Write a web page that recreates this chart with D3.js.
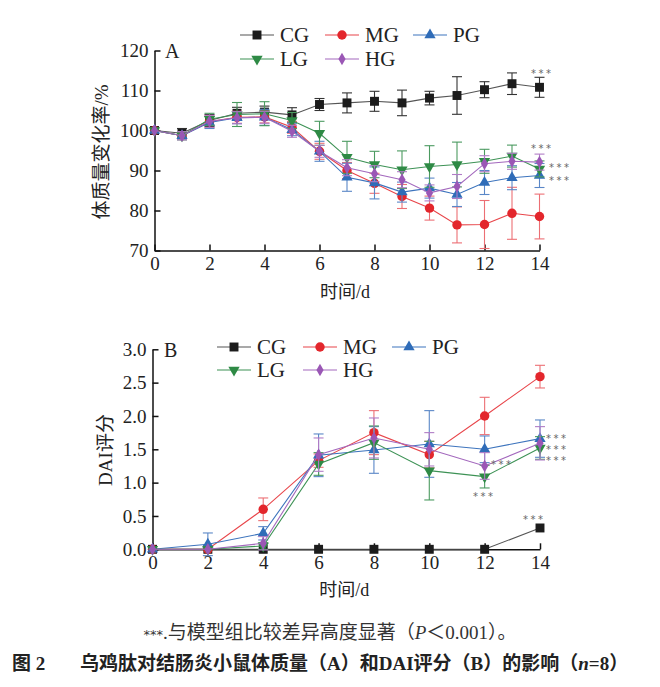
<!DOCTYPE html>
<html><head><meta charset="utf-8">
<script src="https://cdn.jsdelivr.net/npm/d3@7"></script>
<style>body{margin:0;background:#fff}</style>
</head><body>
<svg id="c" width="660" height="687" xmlns="http://www.w3.org/2000/svg"></svg>
<script>
// ---------- data ----------
const groups = ["CG", "MG", "PG", "LG", "HG"];
const daysA = [0,1,2,3,4,5,6,7,8,9,10,11,12,13,14];
const weightCG = [100, 99.3, 102.5, 104.3, 104.6, 103.9, 106.5, 106.9, 107.3, 106.9, 108.1, 108.75, 110.2, 111.7, 110.8];
const weightMG = [100, 98.7, 102.2, 103.3, 103.4, 100.8, 94.8, 90.0, 86.8, 83.5, 80.6, 76.4, 76.5, 79.3, 78.5];
const weightPG = [100, 98.7, 102.0, 103.2, 103.3, 100.2, 94.8, 88.3, 86.9, 84.6, 85.6, 84.0, 87.0, 88.2, 88.75];
const weightLG = [100, 98.7, 102.8, 104.0, 104.2, 102.5, 99.3, 93.3, 91.5, 90.2, 91.0, 91.5, 92.3, 93.6, 90.4];
const weightHG = [100, 98.7, 102.3, 103.2, 103.3, 99.8, 94.8, 90.7, 89.2, 87.7, 84.4, 86.0, 91.7, 92.3, 92.1];
const weightErrCG = [0, 1.2, 1.5, 1.5, 1.5, 1.8, 1.5, 2.5, 2.5, 3.2, 1.7, 4.7, 2.0, 2.7, 2.5];
const weightErrMG = [0, 1.0, 1.5, 1.5, 1.5, 1.5, 2.0, 2.0, 2.5, 3.0, 3.0, 4.5, 6.0, 6.5, 5.6];
const weightErrPG = [0, 1.0, 1.5, 1.5, 2.0, 1.5, 2.5, 3.5, 4.0, 2.5, 2.5, 3.0, 3.0, 3.0, 3.0];
const weightErrLG = [0, 1.0, 1.5, 3.0, 3.0, 2.0, 3.0, 4.0, 3.3, 4.7, 5.2, 5.6, 3.0, 2.75, 2.0];
const weightErrHG = [0, 1.0, 1.5, 1.5, 1.5, 1.5, 1.5, 2.0, 2.0, 2.0, 2.0, 3.0, 2.0, 2.0, 2.0];

const daysB = [0,2,4,6,8,10,12,14];
const daiCG = [0, 0, 0, 0, 0, 0, 0, 0.32];
const daiMG = [0, 0, 0.6, 1.33, 1.75, 1.42, 2.0, 2.59];
const daiPG = [0, 0.075, 0.24, 1.41, 1.49, 1.58, 1.5, 1.66];
const daiLG = [0, 0, 0.05, 1.28, 1.6, 1.18, 1.09, 1.52];
const daiHG = [0, 0, 0.09, 1.42, 1.67, 1.5, 1.25, 1.59];
const daiErrCG = [0, 0, 0, 0, 0, 0, 0, 0];
const daiErrMG = [0, 0, 0.17, 0.1, 0.33, 0.2, 0.28, 0.17];
const daiErrPG = [0, 0.17, 0.1, 0.32, 0.35, 0.5, 0.2, 0.28];
const daiErrLG = [0, 0, 0.05, 0.17, 0.25, 0.44, 0.17, 0.17];
const daiErrHG = [0, 0, 0.1, 0.25, 0.3, 0.25, 0.2, 0.25];

const ticksAY = [70, 80, 90, 100, 110, 120];
const ticksBY = [0, 0.5, 1.0, 1.5, 2.0, 2.5, 3.0];
const ticksX = [0, 2, 4, 6, 8, 10, 12, 14];

// ---------- styles ----------
const markColor = {CG:"#1c1c1c", MG:"#e3262c", PG:"#2f6cb8", LG:"#2e8a45", HG:"#9a57b5"};
const lineColor = {CG:"#555555", MG:"#e8454a", PG:"#3d74bd", LG:"#3d9255", HG:"#a368bd"};
const errColor  = {CG:"#333333", MG:"#ec6f74", PG:"#5a87c7", LG:"#4b9a60", HG:"#b07cc6"};
const symbolOf = {
  CG: d3.symbolSquare, MG: d3.symbolCircle, PG: d3.symbolTriangle, LG: "down", HG: d3.symbolDiamond
};
const sizeOf = {CG: 80, MG: 70, PG: 55, LG: 55, HG: 45};

const svg = d3.select("#c");
const SERIF = "'Liberation Serif','Times New Roman','Noto Sans CJK SC',serif";
const CJK = "'Liberation Serif','Noto Sans CJK SC',sans-serif";

function marker(g, grp, x, y) {
  const sym = symbolOf[grp];
  const t = sym === "down" ? `translate(${x},${y}) rotate(180)` : `translate(${x},${y})`;
  const s = sym === "down" ? d3.symbolTriangle : sym;
  g.append("path").attr("d", d3.symbol(s, sizeOf[grp])()).attr("transform", t)
    .attr("fill", markColor[grp]);
}

function panel(cfg) {
  const x = d3.scaleLinear().domain([0, 14]).range(cfg.xr);
  const y = d3.scaleLinear().domain(cfg.yd).range(cfg.yr);
  const g = svg.append("g");

  // axes
  const ax = g.append("g").attr("transform", `translate(0,${cfg.yr[0]})`)
    .call(d3.axisBottom(x).tickValues(ticksX).tickSizeInner(-6).tickSizeOuter(0).tickPadding(6));
  const ay = g.append("g").attr("transform", `translate(${cfg.xr[0]},0)`)
    .call(d3.axisLeft(y).tickValues(cfg.ticksY).tickFormat(cfg.fmt).tickSizeInner(-6).tickSizeOuter(0).tickPadding(6));
  [ax, ay].forEach(a => {
    a.selectAll("path,line").attr("stroke", "#111").attr("stroke-width", 1.5);
    a.selectAll("text").attr("font-family", SERIF).attr("font-size", 19).attr("fill", "#222");
  });

  // series
  cfg.groups.forEach(grp => {
    const vals = cfg.vals[grp], errs = cfg.errs[grp];
    const pts = cfg.days.map((d, i) => ({d, v: vals[i], e: errs[i]}));
    const gg = g.append("g");
    gg.append("path").datum(pts)
      .attr("d", d3.line().x(p => x(p.d)).y(p => y(p.v)))
      .attr("fill", "none").attr("stroke", lineColor[grp]).attr("stroke-width", 1.1);
    pts.filter(p => p.e > 0).forEach(p => {
      const cx = x(p.d), y0 = y(p.v - p.e), y1 = y(p.v + p.e);
      gg.append("line").attr("x1", cx).attr("x2", cx).attr("y1", y0).attr("y2", y1)
        .attr("stroke", errColor[grp]).attr("stroke-width", 1.1);
      [y0, y1].forEach(yy => gg.append("line").attr("x1", cx - 5).attr("x2", cx + 5)
        .attr("y1", yy).attr("y2", yy).attr("stroke", errColor[grp]).attr("stroke-width", 1.1));
    });
    pts.forEach(p => marker(gg, grp, x(p.d), y(p.v)));
  });

  // panel letter
  g.append("text").attr("x", cfg.letter[0]).attr("y", cfg.letter[1]).text(cfg.letterText)
    .attr("font-family", SERIF).attr("font-size", 20).attr("fill", "#222");

  // legend
  cfg.legend.forEach(item => {
    const [grp, lx, ly] = item;
    g.append("line").attr("x1", lx).attr("x2", lx + 34).attr("y1", ly).attr("y2", ly)
      .attr("stroke", lineColor[grp]).attr("stroke-width", 1.1);
    marker(g, grp, lx + 17, ly);
    g.append("text").attr("x", lx + 40).attr("y", ly).attr("dy", "0.35em").text(grp)
      .attr("font-family", SERIF).attr("font-size", 21).attr("fill", "#222");
  });

  // axis titles
  g.append("text").attr("x", (cfg.xr[0] + cfg.xr[1]) / 2 - 2).attr("y", cfg.xTitleY).text("时间/d")
    .attr("text-anchor", "middle").attr("font-family", CJK).attr("font-size", 18).attr("fill", "#222");
  g.append("text").attr("transform", `translate(${cfg.yTitle[0]},${cfg.yTitle[1]}) rotate(-90)`)
    .text(cfg.yTitleText).attr("text-anchor", "middle")
    .attr("font-family", CJK).attr("font-size", 19).attr("fill", "#222");

  // significance stars
  cfg.stars.forEach(s => {
    g.append("text").attr("x", s[0]).attr("y", s[1]).text("***").attr("text-anchor", s[2] || "start")
      .attr("font-family", "'DejaVu Sans',sans-serif").attr("font-size", 10)
      .attr("letter-spacing", 2.5).attr("fill", "#666");
  });
}

panel({
  xr: [154.5, 539.5], yd: [70, 120], yr: [250.5, 50.5], ticksY: ticksAY, fmt: d3.format("d"),
  days: daysA, groups: groups,
  vals: {CG: weightCG, MG: weightMG, PG: weightPG, LG: weightLG, HG: weightHG},
  errs: {CG: weightErrCG, MG: weightErrMG, PG: weightErrPG, LG: weightErrLG, HG: weightErrHG},
  letter: [165, 58], letterText: "A",
  legend: [["CG", 240, 35], ["MG", 325, 35], ["PG", 413, 35], ["LG", 240, 59], ["HG", 325, 59]],
  xTitleY: 298, yTitle: [108, 152], yTitleText: "体质量变化率/%",
  stars: [[531, 77], [531, 152], [549, 171], [549, 184]]
});

panel({
  xr: [152.5, 540], yd: [0, 3], yr: [549.3, 349.3], ticksY: ticksBY, fmt: d3.format(".1f"),
  days: daysB, groups: groups,
  vals: {CG: daiCG, MG: daiMG, PG: daiPG, LG: daiLG, HG: daiHG},
  errs: {CG: daiErrCG, MG: daiErrMG, PG: daiErrPG, LG: daiErrLG, HG: daiErrHG},
  letter: [164, 357], letterText: "B",
  legend: [["CG", 217, 347], ["MG", 303, 347], ["PG", 392, 347], ["LG", 217, 370], ["HG", 303, 370]],
  xTitleY: 596, yTitle: [112, 450], yTitleText: "DAI评分",
  stars: [[523, 523], [491, 468], [473, 500], [546, 442], [546, 453], [546, 464]]
});

// footnote and caption
svg.append("text").attr("x", 330).attr("y", 639).attr("text-anchor", "middle")
  .attr("font-family", CJK).attr("font-size", 19).attr("fill", "#333")
  .html("<tspan font-family=\"'DejaVu Sans'\" font-size=\"13\">***</tspan>.与模型组比较差异高度显著（<tspan font-style=\"italic\">P</tspan>＜0.001）。");
const cap = svg.append("text").attr("y", 670).attr("font-family", CJK).attr("font-weight", "bold")
  .attr("font-size", 19).attr("fill", "#222");
cap.append("tspan").attr("x", 12).text("图 2");
cap.append("tspan").attr("x", 80).html("乌鸡肽对结肠炎小鼠体质量（A）和DAI评分（B）的影响（<tspan font-style=\"italic\">n</tspan>=8）");
</script>
</body></html>
